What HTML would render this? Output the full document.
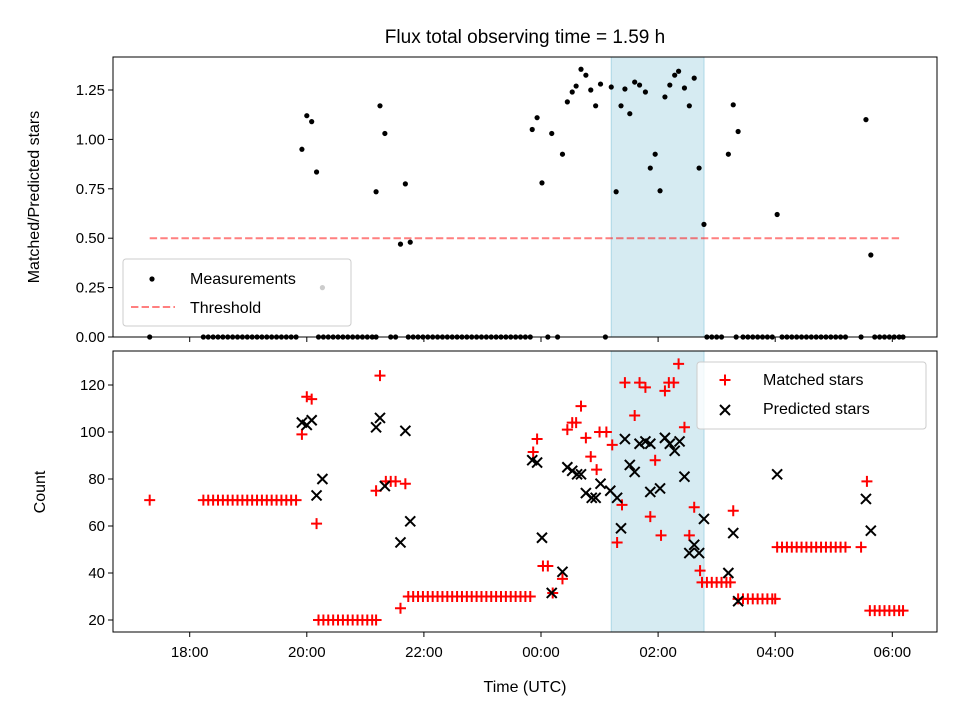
<!DOCTYPE html>
<html><head><meta charset="utf-8"><style>
body{margin:0;background:#fff}
svg{font-family:"Liberation Sans","DejaVu Sans",sans-serif}
</style></head><body>
<svg id="chart" width="960" height="720" viewBox="0 0 960 720">
<rect width="960" height="720" fill="#fff"/>
<text x="525" y="43" font-size="19" text-anchor="middle">Flux total observing time = 1.59 h</text>
<text transform="translate(39,197) rotate(-90)" font-size="16" text-anchor="middle">Matched/Predicted stars</text>
<text transform="translate(45,492) rotate(-90)" font-size="16" text-anchor="middle">Count</text>
<text x="525" y="692" font-size="16" text-anchor="middle">Time (UTC)</text>
<g id="topPanel"></g>
<g id="botPanel"></g>
</svg>
<script>
// times in minutes relative to 00:00 UTC
const xTickLabels = ["18:00","20:00","22:00","00:00","02:00","04:00","06:00"];
const xTickMinutes = [-360,-240,-120,0,120,240,360];
const topTicks = [0,0.25,0.5,0.75,1.0,1.25];
const botTicks = [20,40,60,80,100,120];
const shadeRange = [72,167];
const threshold = 0.5;
const thresholdRange = [-401,368];

const ratioTimes = [-245,-240,-235,-230,-224,-169,-165,-160,-144,-139,-134,-9,-4,1,11,22,27,32,36,41,46,51,56,61,72,77,82,86,91,96,101,107,112,117,122,127,132,137,141,147,152,157,162,167,192,197,202,242,333,338];
const ratioValues = [0.95,1.12,1.09,0.835,0.25,0.735,1.17,1.03,0.47,0.775,0.48,1.05,1.11,0.78,1.03,0.925,1.19,1.24,1.27,1.355,1.325,1.25,1.17,1.28,1.265,0.735,1.17,1.255,1.13,1.29,1.275,1.24,0.855,0.925,0.74,1.215,1.275,1.325,1.345,1.26,1.17,1.31,0.855,0.57,0.925,1.175,1.04,0.62,1.10,0.415];
const zeroTimes = [-401,-346,-341,-336,-331,-326,-321,-316,-311,-306,-301,-296,-291,-286,-281,-276,-271,-266,-261,-256,-251,-228,-223,-218,-213,-208,-203,-198,-193,-188,-183,-178,-173,-169,-149,-154,-136,-131,-126,-121,-116,-111,-106,-101,-96,-91,-86,-81,-76,-71,-66,-61,-56,-51,-46,-41,-36,-31,-26,-21,-16,-11,7,17,66,170,175,180,185,200,207,212,217,222,227,232,237,247,252,257,262,267,272,277,282,287,292,297,302,307,312,328,342,347,352,357,362,367,371];
const zeroValues = zeroTimes.map(()=>0);

const matchedTimes = [-401,-346,-341,-336,-331,-326,-321,-316,-311,-306,-301,-296,-291,-286,-281,-276,-271,-266,-261,-256,-251,-245,-240,-235,-230,-228,-223,-218,-213,-208,-203,-198,-193,-188,-183,-178,-173,-169,-169,-165,-159,-154,-149,-144,-139,-136,-131,-126,-121,-116,-111,-106,-101,-96,-91,-86,-81,-76,-71,-66,-61,-56,-51,-46,-41,-36,-31,-26,-21,-16,-11,-8,-4,2,7,12,22,27,32,36,41,46,51,57,60,67,73,78,83,86,96,101,107,112,117,123,127,131,136,141,147,152,157,163,165,170,175,180,185,190,194,197,202,207,212,217,222,227,232,237,240,242,247,252,257,262,267,272,277,282,287,292,297,302,307,312,328,334,337,342,347,352,357,362,367,371];
const matchedValues = [71,71,71,71,71,71,71,71,71,71,71,71,71,71,71,71,71,71,71,71,71,99,115,114,61,20,20,20,20,20,20,20,20,20,20,20,20,20,75,124,79,79,79,25,78,30,30,30,30,30,30,30,30,30,30,30,30,30,30,30,30,30,30,30,30,30,30,30,30,30,30,91.5,97,43,43,31.5,37.5,101,104,104,111,97.5,89.5,84,100,100,94.5,53,69,121,107,121,119,64,88,56,117.5,121,121,129,102,56,68,41,36,36,36,36,36,36,36,66.5,29,29,29,29,29,29,29,29,29,51,51,51,51,51,51,51,51,51,51,51,51,51,51,51,51,79,24,24,24,24,24,24,24,24];
const predictedTimes = [-245,-240,-235,-230,-224,-169,-165,-160,-144,-139,-134,-9,-4,1,11,22,27,32,37,41,46,52,56,61,71,78,82,86,91,96,101,107,112,112,122,127,132,137,142,147,152,157,162,167,192,197,202,242,333,338];
const predictedValues = [104,103,105,73,80,102,106,77,53,100.5,62,88,87,55,31.5,40.5,85,83.5,82,82,74,72,72,78,75,72,59,97,86,83,95,96,95,74.5,76,97.5,95,92,96,81,48.5,52,48.5,63,40,57,28,82,71.5,58];

const NS="http://www.w3.org/2000/svg";
function mk(tag,attrs,parent){const e=document.createElementNS(NS,tag);for(const k in attrs)e.setAttribute(k,attrs[k]);parent.appendChild(e);return e;}
const L=113,R=937;
const xs=m=>541+m*(117.1/120);
const topT=57,topB=337, botT=351,botB=632;
const yTop=v=>337-v*197.6;
const yBot=v=>620-(v-20)*2.35;
const topG=document.getElementById('topPanel'), botG=document.getElementById('botPanel');

function panel(g,t,b,name){
  const s=mk('rect',{x:xs(shadeRange[0]),y:t,width:xs(shadeRange[1])-xs(shadeRange[0]),height:b-t,fill:'#add8e6','fill-opacity':0.5,stroke:'#add8e6'},g);
  
  
  xTickMinutes.forEach((m,i)=>{
    const tk=mk('line',{x1:xs(m),x2:xs(m),y1:b,y2:b+5,stroke:'#000','stroke-width':1},g);
    
    
  });
}
panel(topG,topT,topB,'top');
panel(botG,botT,botB,'bottom');

const th=mk('line',{x1:xs(thresholdRange[0]),x2:xs(thresholdRange[1]),y1:yTop(threshold),y2:yTop(threshold),stroke:'#ff0000','stroke-opacity':0.5,'stroke-width':2,'stroke-dasharray':'7.4,3.2'},topG);



function dots(ts,vs){
  ts.forEach((m,i)=>{
    const c=mk('circle',{cx:xs(m),cy:yTop(vs[i]),r:2.6,fill:'#000'},topG);
    
    
  });
}
dots(ratioTimes,ratioValues);
dots(zeroTimes,zeroValues);

matchedTimes.forEach((m,i)=>{
  const x=xs(m),y=yBot(matchedValues[i]);
  const p=mk('path',{d:`M${x-5.5},${y}H${x+5.5}M${x},${y-5.5}V${y+5.5}`,stroke:'#ff0000','stroke-width':2},botG);
  
  
});
predictedTimes.forEach((m,i)=>{
  const x=xs(m),y=yBot(predictedValues[i]);
  const p=mk('path',{d:`M${x-5},${y-5}L${x+5},${y+5}M${x-5},${y+5}L${x+5},${y-5}`,stroke:'#000','stroke-width':2},botG);
  
  
});

[[topT,topB],[botT,botB]].forEach(([t,b],k)=>{
  const f=mk('rect',{x:L,y:t,width:R-L,height:b-t,fill:'none',stroke:'#000','stroke-width':1},k?botG:topG);
  
  
});
topTicks.forEach(v=>{
  const y=yTop(v);
  mk('line',{x1:L-5,x2:L,y1:y,y2:y,stroke:'#000'},topG);
  const t=mk('text',{x:L-8,y:y+5,'font-size':15,'text-anchor':'end'},topG);
  t.textContent=v.toFixed(2);
  
  
});
botTicks.forEach(v=>{
  const y=yBot(v);
  mk('line',{x1:L-5,x2:L,y1:y,y2:y,stroke:'#000'},botG);
  const t=mk('text',{x:L-8,y:y+5,'font-size':15,'text-anchor':'end'},botG);
  t.textContent=v;
  
  
});
xTickMinutes.forEach((m,i)=>{
  const t=mk('text',{x:xs(m),y:botB+25,'font-size':15,'text-anchor':'middle'},botG);
  t.textContent=xTickLabels[i];
  
  
});

const lg1=mk('g',{},topG);


mk('rect',{x:123,y:259,width:228,height:67,rx:3,fill:'#fff','fill-opacity':0.8,stroke:'#ccc'},lg1);
mk('circle',{cx:152,cy:279,r:2.6,fill:'#000'},lg1);
mk('line',{x1:131,x2:175,y1:307,y2:307,stroke:'#ff0000','stroke-opacity':0.5,'stroke-width':2,'stroke-dasharray':'7.4,3.2'},lg1);
const la=mk('text',{x:190,y:284,'font-size':16},lg1);la.textContent='Measurements';


const lb=mk('text',{x:190,y:313,'font-size':16},lg1);lb.textContent='Threshold';



const lg2=mk('g',{},botG);


mk('rect',{x:697,y:362,width:229,height:67,rx:3,fill:'#fff','fill-opacity':0.8,stroke:'#ccc'},lg2);
mk('path',{d:'M719.5,380H730.5M725,374.5V385.5',stroke:'#ff0000','stroke-width':2},lg2);
mk('path',{d:'M720,405L730,415M720,415L730,405',stroke:'#000','stroke-width':2},lg2);
const lc=mk('text',{x:763,y:385,'font-size':16},lg2);lc.textContent='Matched stars';


const ld=mk('text',{x:763,y:414,'font-size':16},lg2);ld.textContent='Predicted stars';


</script>
</body></html>
